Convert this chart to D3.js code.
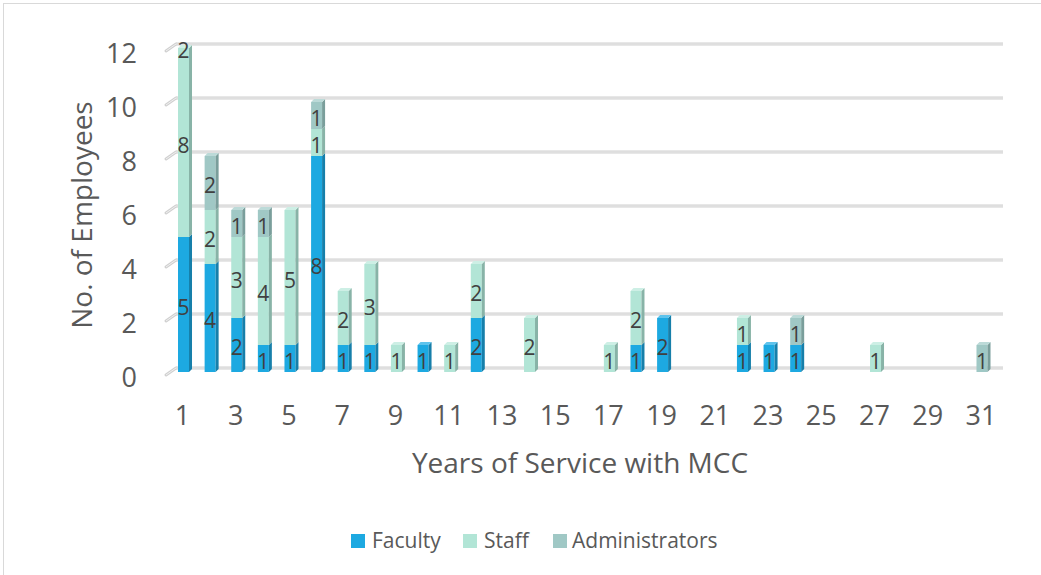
<!DOCTYPE html>
<html>
<head>
<meta charset="utf-8">
<script src="https://cdn.jsdelivr.net/npm/d3@7"></script>
<style>
  html, body { margin: 0; padding: 0; background: #fff; }
  svg { display: block; font-family: "Open Sans", sans-serif; }
</style>
</head>
<body>
<svg id="chart" width="1041" height="575"></svg>
<script>
// ---- data ----
const years = d3.range(1, 32);
const faculty        = [5,4,2,1,1,8,1,1,0,1,0,2,0,0,0,0,0,1,2,0,0,1,1,1,0,0,0,0,0,0,0];
const staff          = [8,2,3,4,5,1,2,3,1,0,1,2,0,2,0,0,1,2,0,0,0,1,0,0,0,0,1,0,0,0,0];
const administrators = [2,2,1,1,0,1,0,0,0,0,0,0,0,0,0,0,0,0,0,0,0,0,0,1,0,0,0,0,0,0,1];
const seriesNames = ["Faculty", "Staff", "Administrators"];
const yTicks = [0, 2, 4, 6, 8, 10, 12];
const xTickLabels = d3.range(1, 32, 2);

// ---- styling ----
const colors = {
  Faculty:        { front: "#1DA9E1", side: "#167FAA", top: "#5EC3EC" },
  Staff:          { front: "#B2E5D6", side: "#88B3A7", top: "#CDEFE5" },
  Administrators: { front: "#A0C8C5", side: "#7A9E9B", top: "#BCDAD8" }
};
const textColor = "#595959";
const labelColor = "#404040";
const depth = 3;
const barW = 11;

const svg = d3.select("#chart");

// border
svg.append("rect").attr("x", 3.5).attr("y", 3.5).attr("width", 1050).attr("height", 590)
  .attr("fill", "none").attr("stroke", "#d9d9d9").attr("stroke-width", 1);

const x = d3.scaleBand().domain(years).range([170.2, 995.3]).paddingInner(0).paddingOuter(0);
const y = d3.scaleLinear().domain([0, 12]).range([372, 48]);
const maxV = 12;

// gridlines (3D style)
const grid = svg.append("g");
yTicks.forEach(v => {
  const yy = y(v);
  const gy = yy - 4;
  grid.append("line").attr("x1", 166).attr("y1", yy + 3).attr("x2", 176).attr("y2", gy)
    .attr("stroke", "#d0d0d0").attr("stroke-width", 3).attr("stroke-linecap", "round");
  grid.append("line").attr("x1", 166).attr("y1", yy + 3).attr("x2", 176).attr("y2", gy)
    .attr("stroke", "#f0f0f0").attr("stroke-width", 1);
  grid.append("line").attr("x1", 176).attr("y1", gy).attr("x2", 1003).attr("y2", gy)
    .attr("stroke", "#d0d0d0").attr("stroke-width", 3);
  grid.append("line").attr("x1", 176).attr("y1", gy).attr("x2", 1003).attr("y2", gy)
    .attr("stroke", "#ededed").attr("stroke-width", 1);
});

// y tick labels
svg.append("g").selectAll("text").data(yTicks).join("text")
  .attr("x", 137).attr("y", d => y(d) + 15)
  .attr("text-anchor", "end").attr("fill", textColor).attr("font-size", 27)
  .text(d => d);

// x tick labels
svg.append("g").selectAll("text").data(xTickLabels).join("text")
  .attr("x", d => x(d) + x.bandwidth() / 2 - 1).attr("y", 425)
  .attr("text-anchor", "middle").attr("fill", textColor).attr("font-size", 27)
  .text(d => d);

// stack
const table = years.map((yr, i) => ({ year: yr, Faculty: faculty[i], Staff: staff[i], Administrators: administrators[i] }));
const stacked = d3.stack().keys(seriesNames)(table);

const bars = svg.append("g");
const labels = [];
years.forEach((yr, i) => {
  const cx = x(yr) + x.bandwidth() / 2;
  const x0 = cx - barW / 2, x1 = cx + barW / 2;
  let topInfo = null;
  stacked.forEach(layer => {
    const d = layer[i];
    const val = d[1] - d[0];
    if (val <= 0) return;
    const a = Math.min(d[0], maxV), b = Math.min(d[1], maxV);
    const c = colors[layer.key];
    if (b > a) {
      const yb = y(a), yt = y(b);
      bars.append("rect").attr("x", x0).attr("y", yt).attr("width", barW).attr("height", yb - yt)
        .attr("fill", c.front);
      bars.append("path")
        .attr("d", `M${x1},${yb} L${x1 + depth},${yb - depth} L${x1 + depth},${yt - depth} L${x1},${yt} Z`)
        .attr("fill", c.side);
      topInfo = { yt, c };
    }
    labels.push({ x: cx, y: y((a + b) / 2) + 2, t: val });
  });
  if (topInfo) {
    const yt = topInfo.yt;
    bars.append("path")
      .attr("d", `M${x0},${yt} L${x0 + depth},${yt - depth} L${x1 + depth},${yt - depth} L${x1},${yt} Z`)
      .attr("fill", topInfo.c.top);
  }
});

svg.append("g").selectAll("text").data(labels).join("text")
  .attr("x", d => d.x).attr("y", d => d.y)
  .attr("text-anchor", "middle").attr("dominant-baseline", "central")
  .attr("fill", labelColor).attr("font-size", 21)
  .text(d => d.t);

// axis titles
svg.append("text").attr("x", 580).attr("y", 473).attr("text-anchor", "middle")
  .attr("fill", textColor).attr("font-size", 28).text("Years of Service with MCC");
svg.append("text").attr("transform", "translate(92,215) rotate(-90)").attr("text-anchor", "middle")
  .attr("fill", textColor).attr("font-size", 28).text("No. of Employees");

// legend
const legendItems = [
  { name: "Faculty", sx: 351, tx: 372 },
  { name: "Staff", sx: 463, tx: 484 },
  { name: "Administrators", sx: 553, tx: 572 }
];
const lg = svg.append("g");
legendItems.forEach(it => {
  lg.append("rect").attr("x", it.sx).attr("y", 534).attr("width", 14).attr("height", 14)
    .attr("fill", colors[it.name].front);
  lg.append("text").attr("x", it.tx).attr("y", 548).attr("fill", textColor).attr("font-size", 21)
    .text(it.name);
});
</script>
</body>
</html>
